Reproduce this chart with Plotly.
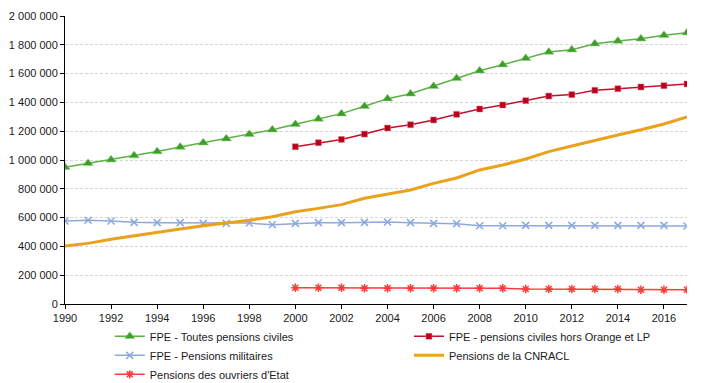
import plotly.graph_objects as go

years = list(range(1990, 2018))
years_2000 = list(range(2000, 2018))

fpe_civiles = [950000, 977000, 1002000, 1031000, 1059000, 1090000, 1120000, 1148000, 1178000,
               1210000, 1248000, 1285000, 1322000, 1373000, 1426000, 1460000, 1512000, 1567000,
               1620000, 1662000, 1706000, 1750000, 1766000, 1808000, 1826000, 1842000, 1866000,
               1884000]
fpe_hors_orange = [1092000, 1120000, 1143000, 1180000, 1222000, 1245000, 1278000, 1317000,
                   1354000, 1382000, 1412000, 1444000, 1454000, 1484000, 1495000, 1507000,
                   1516000, 1528000]
fpe_militaires = [576000, 581000, 576000, 567000, 565000, 565000, 560000, 560000, 562000,
                  551000, 560000, 565000, 565000, 567000, 569000, 565000, 560000, 558000,
                  544000, 544000, 546000, 546000, 546000, 546000, 546000, 546000, 546000,
                  542000]
cnracl = [403000, 421000, 449000, 474000, 500000, 521000, 544000, 560000, 581000, 606000,
          641000, 664000, 690000, 734000, 762000, 792000, 838000, 875000, 931000, 965000,
          1007000, 1058000, 1097000, 1137000, 1174000, 1210000, 1250000, 1299000]
ouvriers_etat = [113000, 113000, 113000, 109000, 109000, 109000, 109000, 109000, 109000,
                 109000, 104000, 104000, 104000, 104000, 104000, 99000, 99000, 99000]

names = ["FPE - Toutes pensions civiles", "FPE - pensions civiles hors Orange et LP",
         "FPE - Pensions militaires", "Pensions de la CNRACL", "Pensions des ouvriers d'Etat"]

fig = go.Figure()
fig.add_trace(go.Scatter(x=years, y=fpe_civiles, name=names[0], mode="lines+markers",
                         line=dict(color="#5DB043", width=1.5),
                         marker=dict(symbol="triangle-up", size=9, color="#3E9E2A",
                                     line=dict(color="#8FD07A", width=0.5)),
                         legend="legend"))
fig.add_trace(go.Scatter(x=years_2000, y=fpe_hors_orange, name=names[1], mode="lines+markers",
                         line=dict(color="#C0122A", width=1.5),
                         marker=dict(symbol="square", size=6, color="#B8001C",
                                     line=dict(color="#E07A88", width=0.5)),
                         legend="legend2"))
fig.add_trace(go.Scatter(x=years, y=fpe_militaires, name=names[2], mode="lines+markers",
                         line=dict(color="#8EA9DB", width=1.5),
                         marker=dict(symbol="x-thin-open", size=7,
                                     line=dict(color="#4A70C8", width=1.5)),
                         legend="legend"))
fig.add_trace(go.Scatter(x=years, y=cnracl, name=names[3], mode="lines",
                         line=dict(color="#EAA21C", width=3),
                         legend="legend2"))
fig.add_trace(go.Scatter(x=years_2000, y=ouvriers_etat, name=names[4], mode="lines+markers",
                         line=dict(color="#FF3B3B", width=1.5),
                         marker=dict(symbol="asterisk-open", size=7,
                                     line=dict(color="#FF0000", width=1.5)),
                         legend="legend"))

font_family = "Liberation Sans, Arial, sans-serif"
fig.update_layout(
    width=707, height=383,
    margin=dict(l=65, r=20, t=16, b=79, autoexpand=False),
    paper_bgcolor="white", plot_bgcolor="white",
    separators=", ",
    font=dict(family=font_family, size=11, color="#1A1A1A"),
    showlegend=True,
    legend=dict(x=0.072, y=-0.062, xanchor="left", yanchor="top", orientation="v",
                bgcolor="rgba(0,0,0,0)", font=dict(size=11), itemwidth=30,
                tracegroupgap=0),
    legend2=dict(x=0.553, y=-0.062, xanchor="left", yanchor="top", orientation="v",
                 bgcolor="rgba(0,0,0,0)", font=dict(size=11), itemwidth=30,
                 tracegroupgap=0),
    xaxis=dict(range=[1990, 2017], dtick=2, tick0=1990, showgrid=False,
               showline=True, linecolor="#000000", linewidth=1,
               ticks="outside", ticklen=4, tickcolor="#000000",
               tickfont=dict(size=11), zeroline=False),
    yaxis=dict(range=[0, 2000000], dtick=200000, tickformat=",d",
               showgrid=True, gridcolor="#D6D6D6", griddash="3px,2px", gridwidth=1,
               showline=True, linecolor="#000000", linewidth=1,
               ticks="outside", ticklen=4, tickcolor="#000000",
               tickfont=dict(size=11), zeroline=False),
)

fig.write_html("out.html", config={"displayModeBar": False},
               post_script="document.body.style.margin='0';")
